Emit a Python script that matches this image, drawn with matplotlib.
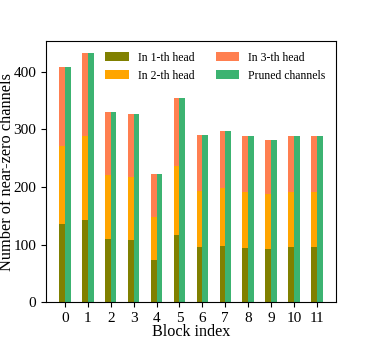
import matplotlib
matplotlib.use("Agg")
import matplotlib.pyplot as plt
import numpy as np

plt.rcParams['font.family'] = ['Liberation Serif', 'DejaVu Serif']

blocks = list(range(12))
head1 = [136, 143, 110, 108, 73, 117, 96, 98, 94, 93, 95, 95]
head12 = [272, 288, 220, 218, 147, 236, 193, 198, 192, 188, 192, 192]
pruned = [408, 432, 330, 327, 222, 354, 291, 297, 288, 282, 288, 288]

head2 = [b - a for a, b in zip(head1, head12)]
head3 = [c - b for b, c in zip(head12, pruned)]

fig = plt.figure(figsize=(3.74, 3.39), dpi=100)
ax = fig.add_axes([0.123, 0.109, 0.775, 0.770])

x = np.arange(len(blocks))
w = 0.25
ax.bar(x - w/2, head1, w, color='#808000', label='In 1-th head')
ax.bar(x - w/2, head2, w, bottom=head1, color='#FFA500', label='In 2-th head')
ax.bar(x - w/2, head3, w, bottom=head12, color='#FF7F50', label='In 3-th head')
ax.bar(x + w/2, pruned, w, color='#3CB371', label='Pruned channels')

ax.set_xticks(x)
ax.set_xticklabels([str(b) for b in blocks])
ax.set_yticks([0, 100, 200, 300, 400])
ax.tick_params(labelsize=11)
ax.set_xlabel('Block index', fontsize=11.6, va='center')
ax.set_ylabel('Number of near-zero channels', fontsize=11.8, va='center')
ax.xaxis.set_label_coords(0.5, -0.113)
ax.yaxis.set_label_coords(-0.135, 0.5)

ax.legend(ncol=2, frameon=False, fontsize=8.5, loc='upper right',
          handlelength=2.0, handletextpad=0.75, columnspacing=1.8)

fig.savefig('out.png', dpi=100)
